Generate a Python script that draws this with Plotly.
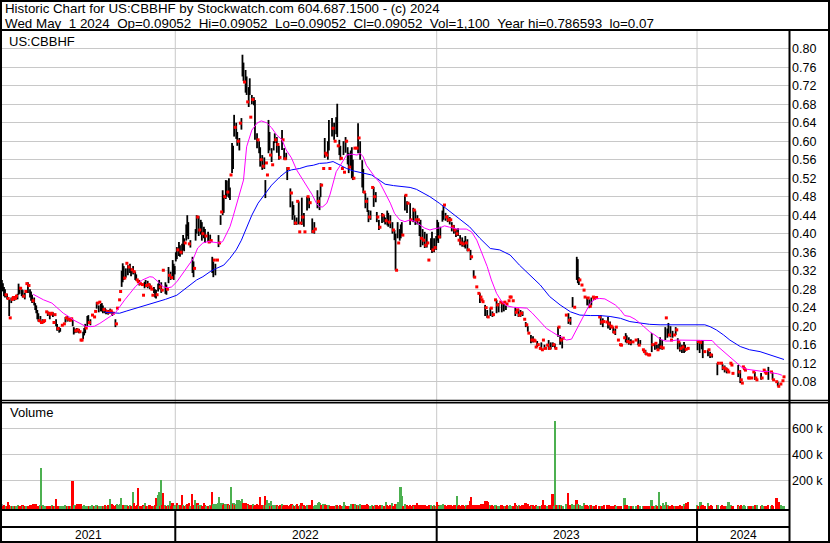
import plotly.graph_objects as go
import pandas as pd

W, H = 830, 543

# ---------------- data ----------------
holidays = ["2021-05-31", "2021-07-05", "2021-09-06", "2021-11-25", "2021-12-24",
            "2022-01-17", "2022-02-21", "2022-04-15", "2022-05-30", "2022-06-20", "2022-07-04",
            "2022-09-05", "2022-11-24", "2022-12-26",
            "2023-01-02", "2023-01-16", "2023-02-20", "2023-04-07", "2023-05-29", "2023-06-19",
            "2023-07-04", "2023-09-04", "2023-11-23", "2023-12-25",
            "2024-01-01", "2024-01-15", "2024-02-19", "2024-03-29"]
first_day, last_day = "2021-05-06", "2024-05-01"

# daily high / low in thousandths of a dollar (0 = no trade; high == low = single-price day)
hi = [
    300,293,285,280,268,270,260,258,218,262,258,262,265,260,265,270,292,285,282,280,278,265,272,275,
    292,295,288,280,275,268,255,262,250,245,235,228,212,222,208,215,210,212,0,231,232,228,230,226,
    228,230,208,225,215,205,195,198,196,0,202,0,205,220,218,222,215,218,213,216,214,198,195,190,
    196,192,194,188,170,170,188,196,205,196,222,224,208,215,0,224,0,220,232,252,250,245,252,248,
    250,245,236,240,236,232,235,230,238,233,232,228,0,215,205,239,0,257,275,320,336,330,304,325,
    336,332,328,335,325,322,330,318,318,312,300,296,300,292,0,290,267,296,300,288,298,290,292,285,
    280,267,285,280,278,268,292,300,285,295,278,321,0,295,290,280,328,310,318,305,343,335,330,360,
    371,365,382,375,360,378,397,390,380,420,440,425,378,386,0,350,340,325,410,440,436,438,408,430,
    425,400,415,410,395,0,404,382,398,385,350,340,343,335,0,343,397,380,440,447,494,484,480,516,
    515,490,520,500,527,596,590,657,630,640,620,600,607,639,650,787,770,728,754,740,685,717,736,652,
    700,690,695,689,0,617,603,600,587,560,570,546,565,516,553,527,646,620,570,585,549,600,617,603,
    609,593,590,565,0,624,603,585,562,575,544,541,0,498,488,470,462,440,423,435,470,470,404,423,
    478,436,445,404,0,480,480,478,467,0,433,405,425,410,0,494,470,480,509,505,0,541,607,574,
    570,600,646,541,0,650,628,640,600,652,681,590,603,590,563,541,600,533,609,600,587,575,544,580,
    587,560,520,585,0,585,639,607,600,0,559,540,490,488,470,478,451,436,450,0,500,501,480,490,
    447,436,430,414,0,445,440,440,435,428,450,445,425,440,0,425,408,408,400,321,425,380,410,420,
    425,397,0,483,483,470,466,0,466,430,0,456,451,450,430,440,430,425,430,390,410,386,404,375,
    400,380,343,0,390,404,365,390,370,395,430,425,393,415,0,450,462,462,445,436,440,430,436,430,
    425,415,419,408,410,400,412,386,397,380,392,378,385,395,380,388,365,0,365,350,0,321,306,0,
    285,0,271,271,263,257,253,0,246,240,235,220,0,240,239,232,225,0,257,257,246,250,0,252,
    252,250,248,252,245,248,0,255,263,263,0,255,0,241,230,235,238,224,235,228,232,0,215,209,
    203,200,185,0,181,170,178,170,168,155,168,160,0,152,165,149,170,160,152,0,159,170,152,165,
    0,165,160,162,152,0,198,198,181,170,175,174,0,0,224,0,228,213,220,0,263,0,241,0,
    350,345,306,300,0,289,0,278,263,0,263,261,258,243,262,0,263,260,0,262,0,0,220,224,
    209,217,210,0,0,209,220,205,210,200,198,198,187,195,198,0,170,0,160,159,0,0,175,185,
    180,167,176,165,172,0,166,0,0,170,0,174,159,170,0,0,149,145,149,140,0,138,138,0,
    185,160,0,163,163,160,149,162,176,155,170,153,0,198,218,195,207,181,200,170,190,0,181,198,
    192,174,166,165,152,160,155,166,160,150,0,152,0,0,0,0,0,0,0,0,170,167,165,165,
    170,170,0,145,0,0,149,149,145,138,140,0,0,0,0,120,120,0,0,120,118,110,115,108,
    110,105,101,0,120,116,98,0,0,0,0,116,101,105,84,77,112,108,105,0,0,88,88,0,
    88,0,101,101,88,84,0,0,0,99,88,0,105,101,98,0,112,0,0,101,100,84,0,0,
    80,80,70,0,75,0,82,90.52,
]
lo = [
    275,276,265,262,268,258,260,222,218,250,258,262,255,260,265,258,268,270,282,265,262,265,258,275,
    292,272,288,262,255,250,255,245,235,228,215,210,212,208,208,205,210,212,0,231,222,228,215,226,
    228,220,208,225,200,190,195,186,188,0,202,0,205,208,218,210,215,210,213,216,200,182,185,190,
    186,192,185,188,170,170,172,180,185,196,200,205,208,202,0,224,0,220,232,238,250,230,252,232,
    232,228,236,228,226,232,225,230,228,233,222,228,0,198,205,239,0,257,275,285,295,300,304,305,
    336,310,328,315,308,322,312,318,300,298,300,296,288,292,0,290,267,282,285,288,282,290,280,285,
    280,267,272,262,260,268,275,280,285,272,278,321,0,270,268,280,293,310,300,305,305,300,312,340,
    345,365,352,350,360,355,365,362,380,385,395,388,378,370,0,315,306,325,385,400,436,395,408,398,
    385,400,390,380,395,0,382,382,380,385,315,306,343,310,0,343,371,380,419,447,440,445,480,475,
    480,490,478,473,527,531,540,610,630,605,590,600,580,639,625,740,730,728,705,700,685,674,700,652,
    680,690,678,603,0,585,603,574,545,560,538,546,540,477,553,527,574,580,570,555,549,580,596,603,
    575,593,560,565,0,581,603,560,562,560,516,541,0,457,488,430,440,419,423,419,470,420,404,423,
    419,436,415,404,0,450,480,455,467,0,401,405,400,410,0,455,470,451,479,505,0,541,564,574,
    570,560,580,541,0,610,628,603,600,615,609,590,570,559,563,541,570,533,575,600,550,531,544,545,
    520,516,520,585,0,585,574,607,560,0,500,488,490,455,470,447,425,436,430,0,500,458,480,468,
    425,436,408,414,0,423,440,425,420,428,418,415,425,412,0,400,408,386,321,321,390,380,385,390,
    395,397,0,450,483,445,466,0,419,430,0,425,451,419,430,420,430,395,371,390,375,386,369,375,
    370,380,343,0,365,358,365,360,370,365,385,380,393,390,0,426,430,462,428,436,425,430,420,430,
    405,415,400,408,393,400,395,386,375,380,372,378,371,368,380,362,365,0,343,350,0,305,306,0,
    285,0,271,250,263,257,253,0,222,240,218,220,0,222,239,220,225,0,257,228,246,230,0,252,
    230,250,232,252,235,248,0,255,263,263,0,255,0,222,230,235,220,224,220,228,222,0,215,198,
    203,188,185,0,163,170,165,170,168,155,155,160,0,152,149,149,170,150,152,0,159,149,152,150,
    0,155,160,152,152,0,177,198,160,170,152,174,0,0,224,0,205,213,203,0,241,0,241,0,
    300,293,289,300,0,289,0,278,263,0,245,261,239,243,245,0,263,260,0,262,0,0,220,203,
    209,198,210,0,0,209,195,205,192,200,198,185,187,181,198,0,170,0,160,159,0,0,175,165,
    163,167,160,165,159,0,166,0,0,170,0,159,159,160,0,0,149,145,138,140,0,138,138,0,
    144,160,0,149,163,150,149,150,150,155,149,153,0,170,218,175,180,181,176,170,175,0,181,181,
    192,150,166,145,152,142,155,142,145,150,0,152,0,0,0,0,0,0,0,0,148,167,142,165,
    150,131,0,145,0,0,135,149,131,138,132,0,0,0,0,94,120,0,0,120,105,110,100,108,
    98,105,101,0,120,116,98,0,0,0,0,90,101,77,84,77,112,108,105,0,0,88,88,0,
    88,0,101,84,88,84,0,0,0,84,88,0,105,101,98,0,84,0,0,101,84,84,0,0,
    80,70,70,0,75,0,82,90.52,
]
# daily volume in thousands of shares
vol_k = [
    16,5,8,6,4,5,31,10,6,4,3,5,6,4,3,5,8,6,4,5,7,3,4,5,
    6,5,4,8,11,6,18,18,18,18,6,5,4,8,295,6,8,4,0,5,6,4,5,3,
    8,6,5,4,57,6,5,4,3,0,5,0,4,8,6,5,4,3,5,6,195,12,8,6,
    18,18,18,18,18,5,6,8,5,4,6,5,4,6,0,8,0,5,6,7,5,4,6,5,
    5,6,4,8,6,5,8,4,59,6,15,12,0,5,8,22,0,10,18,67,8,10,6,8,
    10,6,5,8,4,6,111,25,5,6,8,144,5,6,0,4,8,5,27,6,5,4,8,5,
    6,5,4,8,67,5,88,113,6,203,8,100,0,12,6,5,8,6,41,5,25,8,6,10,
    25,8,6,10,5,88,8,6,5,12,20,8,25,6,0,95,10,6,49,12,25,8,6,10,
    6,5,28,8,6,0,5,6,8,5,111,20,15,18,0,22,28,72,28,10,28,12,18,15,
    12,18,10,8,152,30,18,25,12,18,49,45,49,40,35,60,25,28,28,28,15,12,10,8,
    8,20,6,12,0,18,6,8,75,5,10,6,8,82,12,49,15,30,6,40,5,10,8,12,
    8,6,5,8,0,15,6,8,5,12,10,6,0,10,18,20,8,6,5,8,22,6,5,8,
    28,6,8,5,0,10,6,12,8,0,49,6,5,8,0,10,28,31,25,8,0,20,15,10,
    6,12,8,5,0,6,5,4,6,8,10,6,5,8,4,5,6,31,8,5,6,4,5,6,
    20,18,20,15,0,8,12,6,20,0,10,12,6,8,5,20,8,6,5,0,10,6,5,8,
    8,5,6,10,0,8,6,5,6,31,8,5,6,10,0,25,6,5,20,8,20,33,6,150,
    80,6,0,20,10,8,6,0,12,5,0,8,6,10,5,26,6,8,12,5,8,6,10,5,
    6,5,8,0,10,6,5,8,6,5,36,8,6,10,0,12,15,10,8,5,6,8,5,8,
    6,5,8,6,10,80,6,8,5,6,8,10,5,6,8,5,10,0,44,72,0,12,10,0,
    12,0,8,6,18,20,18,0,44,6,44,36,0,8,6,10,5,0,8,12,6,5,0,6,
    8,5,6,5,6,8,0,6,10,5,0,6,0,26,8,5,6,10,6,5,8,0,10,26,
    6,18,5,0,10,6,8,5,6,10,5,6,0,5,6,8,49,6,10,0,5,6,8,8,
    0,95,6,657,8,0,12,6,8,10,6,5,0,0,20,0,105,8,10,0,15,0,12,0,
    49,15,10,8,0,6,0,25,8,0,10,6,5,8,10,0,6,5,0,8,0,0,6,5,
    6,5,8,0,0,10,6,8,5,6,4,6,5,8,5,0,5,0,6,4,0,0,62,8,
    8,5,6,5,4,0,5,0,0,6,0,8,5,4,0,0,5,6,4,5,0,5,4,0,
    49,6,0,5,8,6,5,111,8,6,5,26,0,10,36,8,10,5,6,4,8,0,5,6,
    6,5,4,8,5,6,4,20,6,28,0,31,0,0,0,0,0,0,0,0,8,5,6,36,
    6,8,0,5,0,0,26,6,5,8,6,0,0,0,0,10,8,0,0,6,8,5,4,6,
    5,6,36,0,8,5,6,0,0,0,0,8,5,6,8,5,6,8,5,0,0,6,5,0,
    5,0,6,8,5,8,0,0,0,6,8,0,5,6,4,0,10,0,0,5,8,6,0,0,
    67,10,36,0,8,0,6,1.1,
]
# 0 = down day (red), 1 = up day (green), 2 = unchanged (grey)
vol_dir = [
    2,0,0,0,1,0,0,0,0,1,0,1,1,0,1,1,1,0,0,0,0,1,0,1,
    1,0,0,0,0,0,0,0,0,0,0,0,0,1,1,0,1,1,0,1,0,0,0,0,
    1,0,0,1,0,0,0,0,1,0,1,0,1,1,1,0,1,0,0,1,0,0,1,0,
    0,0,0,0,0,0,1,1,1,1,1,1,0,1,0,1,0,0,1,1,1,0,1,1,
    1,0,1,0,0,1,0,0,1,1,0,0,0,0,0,1,0,1,1,1,1,0,0,1,
    1,0,0,1,0,0,1,0,0,0,0,0,1,0,0,0,0,1,1,0,0,1,0,0,
    0,0,1,0,0,1,1,1,0,1,0,0,0,1,0,0,1,0,1,0,0,0,1,1,
    0,1,1,0,0,0,1,0,0,1,0,0,0,1,0,0,0,0,1,1,0,1,0,1,
    0,0,0,0,1,0,0,0,1,0,0,1,1,1,0,1,1,1,1,1,1,0,0,1,
    1,0,1,0,1,1,0,1,0,1,1,1,1,1,1,1,0,0,0,0,0,1,0,0,
    0,1,0,0,0,0,0,0,0,0,0,0,1,0,1,1,1,1,0,1,0,1,1,1,
    0,1,0,0,0,1,0,0,0,0,0,0,0,0,0,0,1,0,0,1,0,0,0,1,
    0,1,0,0,0,1,1,0,0,0,0,0,1,1,0,1,1,1,1,0,0,1,1,0,
    0,1,1,0,0,0,0,0,0,1,0,0,1,0,0,0,1,1,1,0,0,0,0,1,
    1,0,0,1,0,0,1,0,1,0,0,0,0,0,0,0,0,0,1,0,1,0,0,1,
    0,0,0,0,0,1,1,0,0,1,0,0,0,0,0,1,0,0,0,0,1,1,1,1,
    1,0,0,1,1,0,0,0,0,0,0,0,1,0,0,0,0,0,0,0,0,0,0,0,
    0,0,0,0,1,1,0,1,0,1,0,0,1,1,0,1,1,1,0,0,0,0,0,0,
    0,0,0,0,0,1,0,0,0,0,0,0,0,0,1,0,0,0,0,0,0,0,0,0,
    0,0,0,0,0,0,0,0,0,0,0,0,0,1,0,0,0,0,1,1,0,1,0,1,
    0,0,0,1,0,0,0,1,1,1,0,0,0,0,0,1,0,1,0,0,0,0,0,0,
    0,0,0,0,0,1,0,0,0,0,1,1,0,0,1,0,0,0,0,0,1,1,0,0,
    0,0,1,1,0,0,1,1,0,1,0,1,0,0,1,0,0,0,0,0,1,0,1,0,
    0,1,0,1,0,1,0,1,0,0,0,0,0,1,0,0,1,0,0,0,0,0,0,0,
    1,0,0,0,0,0,0,0,0,0,0,0,0,0,1,0,0,0,0,0,0,0,1,0,
    0,0,1,1,0,0,1,0,0,1,0,0,0,1,0,0,1,0,0,0,0,0,0,0,
    1,0,0,1,1,0,0,1,1,0,0,1,0,1,1,0,1,0,0,0,0,0,0,1,
    0,0,0,0,0,0,0,1,0,0,0,0,0,0,0,0,0,0,0,0,1,0,0,1,
    0,0,0,0,0,0,1,0,0,0,0,0,0,0,0,0,1,0,0,0,0,0,0,0,
    0,1,1,0,1,0,0,0,0,0,0,0,1,0,0,0,1,1,1,0,0,1,0,0,
    0,0,1,0,0,1,0,0,0,0,1,0,1,0,0,0,0,0,0,1,0,0,0,0,
    0,0,0,0,1,0,1,1,
]
# moving averages (trading-day number, thousandths)
ma30_day = [30,40,48,54,59,64,69,75,80,85,89,94,99,104,109,113,118,123,128,133,
            135,142,145,150,155,160,163,168,174,179,184,188,193,198,203,209,212,216,219,222,
            225,229,232,235,240,245,249,254,259,264,269,273,278,283,288,293,298,302,305,308,
            312,315,318,321,325,328,331,336,341,344,347,350,353,358,363,368,373,377,382,387,
            392,397,401,406,411,414,421,425,430,437,446,451,456,461,466,470,475,480,485,491,
            498,504,509,514,518,523,528,533,538,542,547,550,555,560,565,570,574,579,584,589,
            594,598,603,608,613,618,622,627,632,637,642,648,661,675,682,686,691,696,701,706,
            710,715,720,725,731,736,740,745,749]
ma30 = [269,257,250,239,228,221,213,206,200,199,200,206,213,221,229,242,257,271,285,296,
        300,307,306,296,285,283,285,296,315,329,347,369,380,383,381,380,383,401,415,437,
        462,494,516,588,624,639,644,640,629,613,603,581,564,538,520,502,484,466,458,458,
        466,484,512,534,548,559,570,572,570,574,566,548,538,523,510,488,466,444,430,426,
        430,426,419,412,408,410,413,417,414,410,410,404,386,358,329,300,271,253,244,241,
        240,239,229,217,206,195,188,181,176,170,172,185,206,231,250,259,260,259,253,246,
        235,223,221,215,206,195,188,181,172,168,168,170,170,170,169,159,149,141,131,120,
        112,107,105,103,102,102,99,97,94]
ma100_day = [99,109,113,120,126,133,157,168,174,181,187,193,200,206,213,219,225,230,235,240,
             246,253,259,267,273,278,286,293,299,305,312,318,325,331,337,344,349,355,361,368,
             376,384,392,398,405,411,420,430,440,449,459,469,478,488,497,507,517,526,536,546,
             555,565,574,584,594,603,613,622,632,651,675,680,686,693,699,709,718,728,738,747,751]
ma100 = [230,228,228,233,237,241,258,267,278,289,300,307,318,325,332,347,365,386,415,440,
         466,487,505,523,534,538,541,546,548,552,553,556,548,541,536,533,531,527,518,507,
         504,502,500,496,487,480,466,448,430,415,390,368,365,354,332,311,289,264,246,231,
         224,223,223,221,217,210,206,204,203,203,203,199,192,181,170,156,149,145,138,131,128]

price_ticks = [0.08, 0.12, 0.16, 0.20, 0.24, 0.28, 0.32, 0.36, 0.40, 0.44, 0.48,
               0.52, 0.56, 0.60, 0.64, 0.68, 0.72, 0.76, 0.80]
vol_ticks = [200000, 400000, 600000]
vol_tick_text = ["200 k", "400 k", "600 k"]

title_line1 = "Historic Chart for US:CBBHF by Stockwatch.com 604.687.1500 - (c) 2024"
title_line2 = ("Wed May  1 2024  Op=0.09052  Hi=0.09052  Lo=0.09052  Cl=0.09052  "
               "Vol=1,100  Year hi=0.786593  lo=0.07")
symbol_label = "US:CBBHF"
volume_label = "Volume"

# ---------------- build ----------------
n = len(hi)
hol = set(holidays)
dates = [d for d in pd.bdate_range(first_day, last_day) if d.strftime("%Y-%m-%d") not in hol]
if len(dates) > n:
    dates = dates[len(dates) - n:]
years = [d.year for d in dates]
bounds = [i - 0.5 for i in range(1, len(years)) if years[i] != years[i - 1]]

X0, X1 = 0.1, 755.8
FONT = "Liberation Sans, Arial, sans-serif"


def fx(px):
    return px / W


def fy(py):
    return 1 - py / H


bx, by, fxs, fys = [], [], [], []
for i in range(n):
    h, l = hi[i], lo[i]
    if h <= 0:
        continue
    if h > l:
        bx += [i, i, None]
        by += [h / 1000, l / 1000, None]
    else:
        fxs.append(i)
        fys.append(h / 1000)

VOL_BASE = -20000
vcol = {0: "#ff0000", 1: "#4cb050", 2: "#a0a0a0"}
vx = [i for i in range(n) if vol_k[i] > 0]
vy = [vol_k[i] * 1000 - VOL_BASE for i in vx]
vc = [vcol[vol_dir[i]] for i in vx]

fig = go.Figure()
fig.add_trace(go.Scatter(x=bx, y=by, mode="lines", line=dict(color="black", width=1.8),
                         xaxis="x", yaxis="y", hoverinfo="skip"))
fig.add_trace(go.Scatter(x=fxs, y=fys, mode="markers",
                         marker=dict(symbol="square", size=3, color="#ff0000", line=dict(width=0)),
                         xaxis="x", yaxis="y", hoverinfo="skip"))
fig.add_trace(go.Scatter(x=ma100_day, y=[v / 1000 for v in ma100], mode="lines",
                         line=dict(color="#0000ff", width=1), xaxis="x", yaxis="y"))
fig.add_trace(go.Scatter(x=ma30_day, y=[v / 1000 for v in ma30], mode="lines",
                         line=dict(color="#ff00ff", width=1), xaxis="x", yaxis="y"))
fig.add_trace(go.Bar(x=vx, y=vy, base=VOL_BASE, width=1.6, marker=dict(color=vc, line=dict(width=0)),
                     xaxis="x2", yaxis="y2", hoverinfo="skip"))

grid = "#c8c8c8"
shapes = []
for b in bounds:
    shapes.append(dict(type="line", xref="x", yref="paper", x0=b, x1=b, y0=fy(31), y1=fy(509),
                       line=dict(color=grid, width=1), layer="below"))
    shapes.append(dict(type="line", xref="x", yref="paper", x0=b, x1=b, y0=fy(509), y1=fy(541),
                       line=dict(color="black", width=2)))


def hline(py, xa, xb, w):
    shapes.append(dict(type="line", xref="paper", yref="paper", x0=fx(xa), x1=fx(xb),
                       y0=fy(py), y1=fy(py), line=dict(color="black", width=w)))


def vline(px, ya, yb, w):
    shapes.append(dict(type="line", xref="paper", yref="paper", x0=fx(px), x1=fx(px),
                       y0=fy(ya), y1=fy(yb), line=dict(color="black", width=w)))


hline(30, 0, 830, 2)
hline(400.5, 0, 830, 1.5)
hline(402.8, 0, 830, 1.5)
hline(510, 0, 789.5, 2)
hline(527, 0, 789.5, 2)
vline(789.5, 30, 542, 2)
shapes.append(dict(type="rect", xref="paper", yref="paper", x0=fx(1), x1=fx(829), y0=fy(1), y1=fy(542),
                   line=dict(color="black", width=2)))

ann = []


def text(px, py, s, size, anchor="left", xref="paper", xval=None):
    ann.append(dict(xref=xref, yref="paper", x=(fx(px) if xval is None else xval), y=fy(py),
                    text=s, showarrow=False, xanchor=anchor, yanchor="middle",
                    font=dict(family=FONT, size=size, color="black")))


text(3, 9, title_line1, 13.3)
text(3, 23, title_line2.replace("  ", " \u00a0"), 13.4)
text(7, 41, symbol_label, 13)
text(8, 413, volume_label, 13)

edges = [X0] + bounds + [X1]
for k in range(len(edges) - 1):
    mid = (edges[k] + edges[k + 1]) / 2
    yr = years[int(round(mid))]
    text(0, 535, str(yr), 12, anchor="center", xref="x", xval=mid)

fig.update_layout(
    width=W, height=H, margin=dict(l=0, r=0, t=0, b=0),
    paper_bgcolor="white", plot_bgcolor="white", showlegend=False,
    font=dict(family=FONT, size=12, color="black"),
    shapes=shapes, annotations=ann, bargap=0,
    xaxis=dict(domain=[fx(2), fx(789)], range=[X0, X1], anchor="y", showgrid=False,
               zeroline=False, showticklabels=False, ticks=""),
    xaxis2=dict(domain=[fx(2), fx(789)], range=[X0, X1], anchor="y2", matches="x",
                showgrid=False, zeroline=False, showticklabels=False, ticks=""),
    yaxis=dict(domain=[fy(400), fy(31)], range=[0.0404, 0.8383], side="right", anchor="x",
               tickvals=price_ticks, tickformat=".2f", showgrid=True, gridcolor=grid, gridwidth=1,
               zeroline=False, ticks="", ticklabelstandoff=2,
               tickfont=dict(size=12.5, family=FONT, color="black")),
    yaxis2=dict(domain=[fy(509), fy(403)], range=[VOL_BASE, 795000], side="right", anchor="x2",
                tickvals=vol_ticks, ticktext=vol_tick_text, showgrid=True, gridcolor=grid,
                gridwidth=1, zeroline=False, ticks="", ticklabelstandoff=2,
                tickfont=dict(size=12.5, family=FONT, color="black")),
)

fig.write_html("out.html", config={"displayModeBar": False},
               post_script="document.body.style.margin='0';document.body.style.overflow='hidden';")
